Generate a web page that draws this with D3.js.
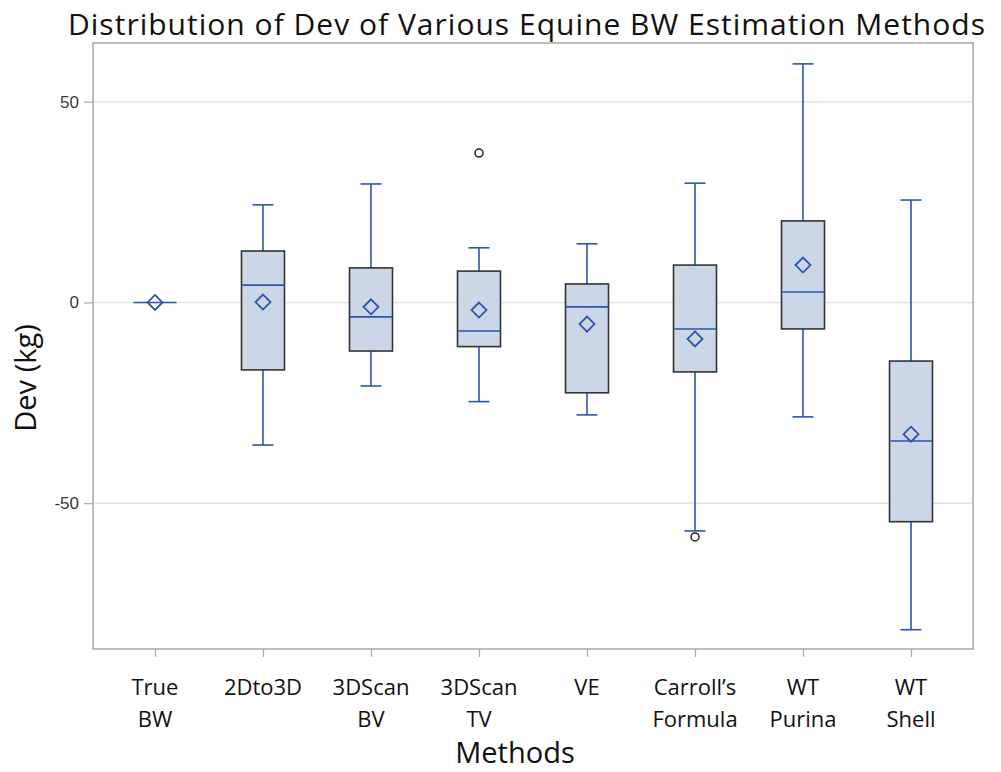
<!DOCTYPE html>
<html>
<head>
<meta charset="utf-8">
<script src="https://cdn.jsdelivr.net/npm/d3@7"></script>
<style>
  body { margin: 0; background: #fff; }
  svg { display: block; }
</style>
</head>
<body>
<div id="chart"></div>
<script>
// data (kg)
const categories = [["True", "BW"], ["2Dto3D"], ["3DScan", "BV"], ["3DScan", "TV"], ["VE"], ["Carroll\u2019s", "Formula"], ["WT", "Purina"], ["WT", "Shell"]];
const whiskerLow  = [0, -35.5, -20.8, -24.7, -28.0, -56.9, -28.5, -81.5];
const q1          = [0, -16.8, -12.1, -11.0, -22.5, -17.3, -6.6, -54.6];
const medians     = [0, 4.3, -3.6, -7.1, -1.1, -6.6, 2.6, -34.5];
const q3          = [0, 12.8, 8.6, 7.8, 4.6, 9.3, 20.3, -14.6];
const whiskerHigh = [0, 24.3, 29.5, 13.6, 14.6, 29.7, 59.4, 25.5];
const means       = [0, 0.1, -1.1, -1.9, -5.4, -9.1, 9.3, -32.8];
const outliers    = [[], [], [], [37.2], [], [-58.4], [], []];
const yTicks      = [50, 0, -50];

const width = 1001, height = 772;
const plot = {left: 93, right: 973, top: 43, bottom: 649};
const blue = "#2a55b0";
const labelFont = "'Open Sans', Lato, sans-serif";

const svg = d3.select("#chart").append("svg")
    .attr("width", width)
    .attr("height", height);

const keys = categories.map((c, i) => i);
const rows = keys.map(i => ({
    i, lo: whiskerLow[i], q1: q1[i], med: medians[i], q3: q3[i],
    hi: whiskerHigh[i], mean: means[i], out: outliers[i]
}));

const x = d3.scalePoint(keys, [plot.left, plot.right]).padding(0.574);
const y = d3.scaleLinear([-86.3, 64.6], [plot.bottom, plot.top]);

const boxW = 43, capW = 21;

// grid lines
svg.append("g").selectAll("line").data(yTicks).join("line")
    .attr("x1", plot.left).attr("x2", plot.right)
    .attr("y1", d => y(d)).attr("y2", d => y(d))
    .attr("stroke", "#e4e4e4").attr("stroke-width", 1.5);

// y axis
const axisY = svg.append("g")
    .attr("transform", `translate(${plot.left},0)`)
    .call(d3.axisLeft(y).tickValues(yTicks).tickSize(9).tickPadding(5).tickFormat(d => String(d)));
axisY.select(".domain").remove();
axisY.selectAll(".tick line").attr("stroke", "#a8a8a8").attr("stroke-width", 1.2);
axisY.selectAll(".tick text")
    .attr("fill", "#3a3a3a")
    .style("font-family", "'Liberation Sans', Arial, sans-serif")
    .style("font-size", "17px");

// x axis
const axisX = svg.append("g")
    .attr("transform", `translate(0,${plot.bottom})`)
    .call(d3.axisBottom(x).tickSize(8).tickFormat(""));
axisX.select(".domain").remove();
axisX.selectAll(".tick line").attr("stroke", "#a8a8a8").attr("stroke-width", 1.2);

// category labels (two lines)
const catLabels = svg.append("g").selectAll("text").data(keys).join("text")
    .attr("x", d => x(d))
    .attr("y", 695)
    .attr("text-anchor", "middle")
    .style("font-family", labelFont)
    .style("font-size", "22px")
    .attr("fill", "#111");
catLabels.selectAll("tspan").data(d => categories[d]).join("tspan")
    .attr("x", function () { return d3.select(this.parentNode).attr("x"); })
    .attr("dy", (d, i) => i === 0 ? 0 : 32)
    .text(d => d);

// plot frame
svg.append("rect")
    .attr("x", plot.left).attr("y", plot.top)
    .attr("width", plot.right - plot.left).attr("height", plot.bottom - plot.top)
    .attr("fill", "none").attr("stroke", "#a6a6a6").attr("stroke-width", 1.5);

// boxes
const g = svg.append("g").selectAll("g.box").data(rows).join("g").attr("class", "box")
    .attr("transform", d => `translate(${x(d.i)},0)`);

// whiskers
g.append("line")
    .attr("x1", 0).attr("x2", 0)
    .attr("y1", d => y(d.hi)).attr("y2", d => y(d.lo))
    .attr("stroke", blue).attr("stroke-width", 1.6);
g.filter(d => d.hi !== d.lo).selectAll("line.cap").data(d => [d.lo, d.hi]).join("line")
    .attr("class", "cap")
    .attr("x1", -capW / 2).attr("x2", capW / 2)
    .attr("y1", d => y(d)).attr("y2", d => y(d))
    .attr("stroke", blue).attr("stroke-width", 1.6);

g.filter(d => d.q3 !== d.q1).append("rect")
    .attr("x", -boxW / 2).attr("width", boxW)
    .attr("y", d => y(d.q3)).attr("height", d => y(d.q1) - y(d.q3))
    .attr("fill", "#cbd6e6").attr("stroke", "#333").attr("stroke-width", 1.6);

// median
g.append("line")
    .attr("x1", -boxW / 2).attr("x2", boxW / 2)
    .attr("y1", d => y(d.med)).attr("y2", d => y(d.med))
    .attr("stroke", blue).attr("stroke-width", 1.6);

// mean diamond
g.append("path")
    .attr("d", d => {
        const cy = y(d.mean), r = 7.5;
        return `M0,${cy - r}L${r},${cy}L0,${cy + r}L${-r},${cy}Z`;
    })
    .attr("fill", "none").attr("stroke", blue).attr("stroke-width", 1.8);

// outliers
g.selectAll("circle").data(d => d.out).join("circle")
    .attr("cx", 0).attr("cy", d => y(d)).attr("r", 4)
    .attr("fill", "none").attr("stroke", "#222").attr("stroke-width", 1.5);

// title and axis labels
svg.append("text")
    .attr("x", 68).attr("y", 35)
    .attr("textLength", 917)
    .attr("lengthAdjust", "spacing")
    .style("font-family", labelFont)
    .style("font-size", "30px")
    .attr("fill", "#111")
    .text("Distribution of Dev of Various Equine BW Estimation Methods");

svg.append("text")
    .attr("x", 515).attr("y", 763)
    .attr("text-anchor", "middle")
    .style("font-family", labelFont)
    .style("font-size", "29px")
    .attr("fill", "#111")
    .text("Methods");

svg.append("text")
    .attr("transform", "translate(36,378)rotate(-90)")
    .attr("text-anchor", "middle")
    .style("font-family", labelFont)
    .style("font-size", "29px")
    .attr("fill", "#111")
    .text("Dev (kg)");
</script>
</body>
</html>
